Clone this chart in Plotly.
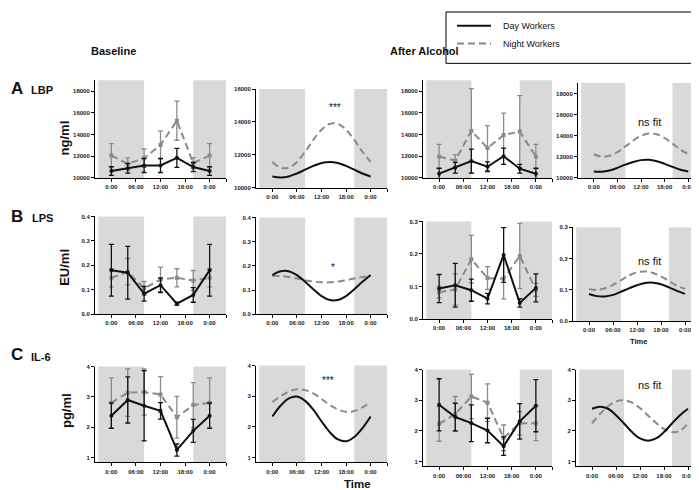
import plotly.graph_objects as go

W, H = 699, 490

# ---------------- data ----------------
hours = [0, 4, 8, 12, 16, 20, 24]
fit_hours = [0, 2, 4, 6, 8, 10, 12, 14, 16, 18, 20, 22, 24]
time_ticks = [0, 6, 12, 18, 24, 28]
time_labels = ["0:00", "06:00", "12:00", "18:00", "0:00", ""]

# LBP (ng/ml)
lbp_base_day = [10640, 10880, 11150, 11150, 11850, 11000, 10640]
lbp_base_day_err = [400, 440, 650, 650, 870, 420, 400]
lbp_base_night = [12060, 11300, 11820, 13030, 15270, 11360, 12060]
lbp_base_night_err = [1100, 550, 850, 1300, 1800, 500, 1100]
lbp_base_fit_day = [10690, 10630, 10690, 10870, 11100, 11330, 11510, 11570, 11510, 11330, 11100, 10870, 10690]
lbp_base_fit_night = [11570, 11220, 11220, 11570, 12190, 12910, 13530, 13880, 13880, 13530, 12910, 12190, 11570]

lbp_alc_day = [10390, 10940, 11550, 11030, 12000, 10850, 10390]
lbp_alc_day_err = [500, 500, 1100, 450, 750, 400, 500]
lbp_alc_night = [11970, 11600, 14330, 12760, 13940, 14270, 11970]
lbp_alc_night_err = [1120, 550, 3880, 2060, 2030, 3300, 1120]
lbp_alc_fit_day = [10610, 10590, 10710, 10960, 11260, 11520, 11690, 11720, 11590, 11340, 11050, 10780, 10610]
lbp_alc_fit_night = [12250, 12030, 12100, 12450, 12980, 13540, 13990, 14210, 14140, 13790, 13260, 12700, 12250]

# LPS (EU/ml)
lps_base_day = [0.180, 0.170, 0.084, 0.119, 0.043, 0.079, 0.180]
lps_base_day_err = [0.106, 0.108, 0.030, 0.030, 0.006, 0.030, 0.106]
lps_base_night = [0.149, 0.174, 0.106, 0.142, 0.149, 0.138, 0.149]
lps_base_night_err = [0.037, 0.054, 0.028, 0.051, 0.037, 0.041, 0.037]
lps_base_fit_day = [0.162, 0.178, 0.178, 0.162, 0.134, 0.103, 0.075, 0.059, 0.059, 0.075, 0.103, 0.134, 0.162]
lps_base_fit_night = [0.158, 0.158, 0.154, 0.148, 0.141, 0.135, 0.132, 0.132, 0.135, 0.141, 0.148, 0.154, 0.158]

lps_alc_day = [0.094, 0.104, 0.089, 0.063, 0.197, 0.050, 0.096]
lps_alc_day_err = [0.043, 0.067, 0.034, 0.016, 0.084, 0.013, 0.043]
lps_alc_night = [0.083, 0.091, 0.184, 0.126, 0.124, 0.194, 0.090]
lps_alc_night_err = [0.018, 0.048, 0.073, 0.035, 0.062, 0.100, 0.020]
lps_alc_fit_day = [0.087, 0.080, 0.079, 0.084, 0.094, 0.105, 0.115, 0.122, 0.123, 0.118, 0.108, 0.097, 0.087]
lps_alc_fit_night = [0.103, 0.100, 0.105, 0.116, 0.131, 0.146, 0.156, 0.159, 0.154, 0.143, 0.128, 0.113, 0.103]

# IL-6 (pg/ml)
il6_base_day = [2.38, 2.90, 2.71, 2.54, 1.25, 1.88, 2.38]
il6_base_day_err = [0.42, 0.76, 1.16, 0.27, 0.20, 0.38, 0.42]
il6_base_night = [2.81, 3.14, 3.16, 3.08, 2.33, 2.73, 2.81]
il6_base_night_err = [0.82, 0.78, 0.76, 0.59, 0.69, 0.74, 0.82]
il6_base_fit_day = [2.34, 2.69, 2.93, 2.99, 2.85, 2.56, 2.18, 1.83, 1.59, 1.53, 1.67, 1.96, 2.34]
il6_base_fit_night = [2.81, 3.00, 3.15, 3.23, 3.20, 3.09, 2.91, 2.72, 2.57, 2.49, 2.52, 2.64, 2.81]

il6_alc_day = [2.85, 2.45, 2.25, 2.01, 1.50, 2.31, 2.82]
il6_alc_day_err = [0.85, 0.45, 0.60, 0.40, 0.30, 0.58, 0.85]
il6_alc_night = [2.23, 2.55, 3.12, 2.92, 1.77, 2.25, 2.25]
il6_alc_night_err = [0.57, 0.57, 0.72, 0.61, 0.42, 0.38, 0.57]
il6_alc_fit_day = [2.72, 2.79, 2.72, 2.51, 2.24, 1.96, 1.75, 1.68, 1.75, 1.96, 2.24, 2.51, 2.72]
il6_alc_fit_night = [2.24, 2.55, 2.80, 2.96, 3.00, 2.92, 2.74, 2.50, 2.26, 2.06, 1.96, 2.00, 2.24]

lbp_ticks = [10000, 12000, 14000, 16000, 18000]
lbp_fit_ticks = [10000, 12000, 14000, 16000]
lps_ticks = [0.0, 0.1, 0.2, 0.3, 0.4]
lps_alc_ticks = [0.0, 0.1, 0.2, 0.3]
il6_ticks = [1, 2, 3, 4]

# ---------------- styling / layout ----------------
BLACK = "#111111"
GRAY = "#8a8a8a"
BAND = "#d9d9d9"
FONT = "Liberation Sans"

# (kind, day, day_err, night, night_err, box px (xl, xr, yt, yb), yrange, yticks, ytickformat)
panels = [
    ("data", lbp_base_day, lbp_base_day_err, lbp_base_night, lbp_base_night_err, (87, 218, 70, 169), [10000, 19000], lbp_ticks, "d"),
    ("fit", lbp_base_fit_day, None, lbp_base_fit_night, None, (248, 379, 79, 179), [10000, 16000], lbp_fit_ticks, "d"),
    ("data", lbp_alc_day, lbp_alc_day_err, lbp_alc_night, lbp_alc_night_err, (415, 544, 70, 169), [10000, 19000], lbp_ticks, "d"),
    ("fit", lbp_alc_fit_day, None, lbp_alc_fit_night, None, (570, 696, 73, 169), [10000, 19000], lbp_ticks, "d"),
    ("data", lps_base_day, lps_base_day_err, lps_base_night, lps_base_night_err, (87, 218, 208, 307), [0, 0.4], lps_ticks, ".1f"),
    ("fit", lps_base_fit_day, None, lps_base_fit_night, None, (248, 379, 209, 307), [0, 0.4], lps_ticks, ".1f"),
    ("data", lps_alc_day, lps_alc_day_err, lps_alc_night, lps_alc_night_err, (415, 544, 213, 312), [0, 0.3], lps_alc_ticks, ".1f"),
    ("fit", lps_alc_fit_day, None, lps_alc_fit_night, None, (565, 693, 219, 314), [0, 0.3], lps_alc_ticks, ".1f"),
    ("data", il6_base_day, il6_base_day_err, il6_base_night, il6_base_night_err, (87, 218, 360, 457), [0.84, 4], il6_ticks, "d"),
    ("fit", il6_base_fit_day, None, il6_base_fit_night, None, (248, 379, 359, 457), [0.84, 4], il6_ticks, "d"),
    ("data", il6_alc_day, il6_alc_day_err, il6_alc_night, il6_alc_night_err, (415, 544, 363, 461), [0.84, 4], il6_ticks, "d"),
    ("fit", il6_alc_fit_day, None, il6_alc_fit_night, None, (568, 696, 363, 461), [0.84, 4], il6_ticks, "d"),
]

fig = go.Figure()
layout = {}
shapes = []

for i, (kind, day, day_err, night, night_err, box, yr, yt, yfmt) in enumerate(panels, start=1):
    s = "" if i == 1 else str(i)
    xl, xr, ytop, ybot = box
    layout["xaxis" + s] = dict(
        domain=[xl / W, xr / W], anchor="y" + s, range=[-4, 28],
        showline=True, linecolor="black", linewidth=1, mirror=False,
        ticks="outside", ticklen=3, tickwidth=1, tickcolor="black",
        tickvals=time_ticks, ticktext=time_labels,
        tickfont=dict(family=FONT, size=6, color="#222", weight="bold"),
        showgrid=False, zeroline=False, fixedrange=True,
    )
    layout["yaxis" + s] = dict(
        domain=[1 - ybot / H, 1 - ytop / H], anchor="x" + s, range=yr,
        showline=True, linecolor="black", linewidth=1,
        ticks="outside", ticklen=3, tickwidth=1, tickcolor="black",
        tickvals=yt, tickformat=yfmt,
        tickfont=dict(family=FONT, size=6, color="#222", weight="bold"),
        showgrid=False, zeroline=False, fixedrange=True,
    )
    for x0, x1 in [(-3.2, 8), (20, 28)]:
        shapes.append(dict(type="rect", xref="x" + s, yref="y" + s + " domain",
                           x0=x0, x1=x1, y0=0, y1=1, fillcolor=BAND,
                           line=dict(width=0), layer="below"))
    if kind == "data":
        fig.add_trace(go.Scatter(
            x=hours, y=night, xaxis="x" + s, yaxis="y" + s, mode="lines+markers",
            name="Night Workers", showlegend=False,
            line=dict(color=GRAY, width=2, dash="7px,4px"),
            marker=dict(symbol="square", size=4, color=GRAY),
            error_y=dict(type="data", array=night_err, color=GRAY, thickness=1.3, width=2.5),
        ))
        fig.add_trace(go.Scatter(
            x=hours, y=day, xaxis="x" + s, yaxis="y" + s, mode="lines+markers",
            name="Day Workers", showlegend=False,
            line=dict(color=BLACK, width=2),
            marker=dict(symbol="circle", size=4, color=BLACK),
            error_y=dict(type="data", array=day_err, color=BLACK, thickness=1.3, width=2.5),
        ))
    else:
        fig.add_trace(go.Scatter(
            x=fit_hours, y=night, xaxis="x" + s, yaxis="y" + s, mode="lines",
            name="Night Workers", showlegend=False,
            line=dict(color=GRAY, width=2, dash="7px,4px", shape="spline", smoothing=1.0),
        ))
        fig.add_trace(go.Scatter(
            x=fit_hours, y=day, xaxis="x" + s, yaxis="y" + s, mode="lines",
            name="Day Workers", showlegend=False,
            line=dict(color=BLACK, width=2, shape="spline", smoothing=1.0),
        ))

# legend box (drawn manually to match the boxed key)
shapes += [
    dict(type="rect", xref="paper", yref="paper", x0=438 / W, x1=692 / W,
         y0=1 - 53 / H, y1=1 - 1 / H, line=dict(color="black", width=1), fillcolor="rgba(0,0,0,0)"),
    dict(type="line", xref="paper", yref="paper", x0=449 / W, x1=483 / W,
         y0=1 - 15 / H, y1=1 - 15 / H, line=dict(color=BLACK, width=2)),
    dict(type="line", xref="paper", yref="paper", x0=449 / W, x1=483 / W,
         y0=1 - 33 / H, y1=1 - 33 / H, line=dict(color=GRAY, width=2, dash="7px,4px")),
]


def ann(text, px, py, size, bold=True, xanchor="center", angle=0, color="#111"):
    return dict(text=text, x=px / W, y=1 - py / H, xref="paper", yref="paper",
                showarrow=False, xanchor=xanchor, yanchor="middle", textangle=angle,
                font=dict(family=FONT, size=size, color=color,
                          weight="bold" if bold else "normal"))


annotations = [
    ann("Day Workers", 493, 15, 9, bold=False, xanchor="left"),
    ann("Night Workers", 493, 33, 9, bold=False, xanchor="left"),
    ann("Baseline", 105, 40, 11),
    ann("After Alcohol", 416, 40, 11),
    ann("A", 9, 78, 17), ann("LBP", 34, 80, 11),
    ann("B", 9, 208, 17), ann("LPS", 34, 210, 11),
    ann("C", 9, 348, 17), ann("IL-6", 33, 350, 11),
    ann("ng/ml", 56, 129, 13, angle=-90),
    ann("EU/ml", 57, 260, 13, angle=-90),
    ann("pg/ml", 58, 405, 13, angle=-90),
    ann("***", 327, 98, 10, bold=False),
    ann("*", 325, 260, 10, bold=False),
    ann("***", 320, 374, 10, bold=False),
    ann("ns fit", 641, 112, 11, bold=False),
    ann("ns fit", 641, 253, 11, bold=False),
    ann("ns fit", 641, 379, 11, bold=False),
    ann("Time", 630, 335, 7.5),
    ann("Time", 349, 479, 11.5),
]

fig.update_layout(
    width=W, height=H, margin=dict(l=0, r=0, t=0, b=0),
    paper_bgcolor="white", plot_bgcolor="rgba(0,0,0,0)",
    showlegend=False, shapes=shapes, annotations=annotations,
    font=dict(family=FONT),
    **layout,
)

fig.write_html("out.html")
